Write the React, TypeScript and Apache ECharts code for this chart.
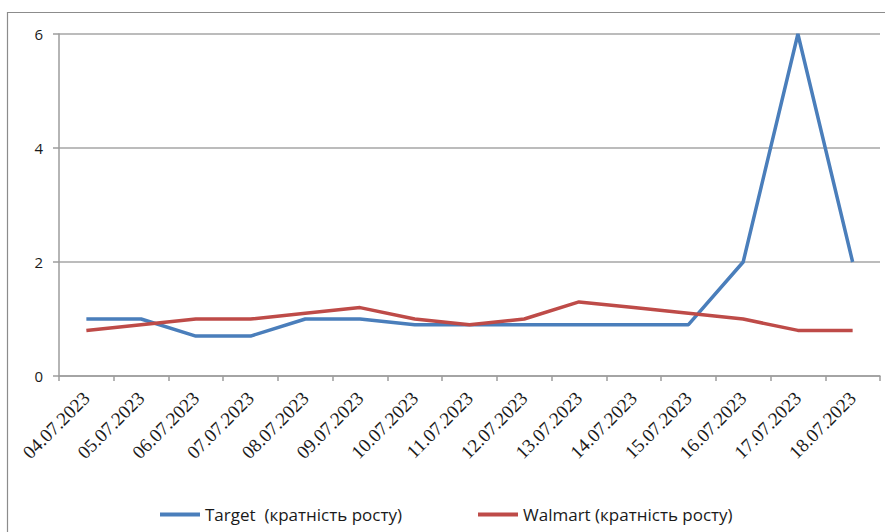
import React, { useEffect, useRef } from "react";
import * as echarts from "echarts";

const categories = [
  "04.07.2023", "05.07.2023", "06.07.2023", "07.07.2023", "08.07.2023",
  "09.07.2023", "10.07.2023", "11.07.2023", "12.07.2023", "13.07.2023",
  "14.07.2023", "15.07.2023", "16.07.2023", "17.07.2023", "18.07.2023",
];
const targetValues = [1, 1, 0.7, 0.7, 1, 1, 0.9, 0.9, 0.9, 0.9, 0.9, 0.9, 2, 6, 2];
const walmartValues = [0.8, 0.9, 1, 1, 1.1, 1.2, 1, 0.9, 1, 1.3, 1.2, 1.1, 1, 0.8, 0.8];
const targetName = "Target  (кратність росту)";
const walmartName = "Walmart (кратність росту)";

export default function App() {
  const ref = useRef<HTMLDivElement>(null);
  useEffect(() => {
    if (!ref.current) return;
    const chart = echarts.init(ref.current, undefined, { renderer: "svg" });
    chart.setOption({
      animation: false,
      backgroundColor: "#ffffff",
      graphic: [
        {
          type: "rect",
          z: -10,
          silent: true,
          shape: { x: 7.5, y: 12.5, width: 900, height: 600 },
          style: { fill: "none", stroke: "#8c8c8c", lineWidth: 1.2 },
        },
      ],
      grid: { left: 59, right: 5, top: 34, bottom: 156, containLabel: false },
      legend: {
        left: 155,
        top: 501,
        itemWidth: 40,
        itemHeight: 4,
        itemGap: 76,
        icon: "rect",
        textStyle: { fontFamily: "Open Sans", fontSize: 17, color: "#1a1a1a" },
        data: [targetName, walmartName],
      },
      xAxis: {
        type: "category",
        data: categories,
        boundaryGap: true,
        axisLine: { lineStyle: { color: "#9c9c9c", width: 1.5 } },
        axisTick: { show: true, length: 5, alignWithLabel: false, lineStyle: { color: "#9c9c9c", width: 1.5 } },
        axisLabel: {
          rotate: 45,
          interval: 0,
          margin: 19,
          fontFamily: "Liberation Serif",
          fontSize: 19,
          color: "#1a1a1a",
        },
        splitLine: { show: false },
      },
      yAxis: {
        type: "value",
        min: 0,
        max: 6,
        interval: 2,
        axisLine: { show: true, lineStyle: { color: "#9c9c9c", width: 1.5 } },
        axisTick: { show: true, length: 6, lineStyle: { color: "#9c9c9c", width: 1.5 } },
        axisLabel: {
          margin: 16,
          fontFamily: "Open Sans",
          fontSize: 15,
          color: "#1a1a1a",
        },
        splitLine: { show: true, lineStyle: { color: "#a6a6a6", width: 1.5 } },
      },
      series: [
        {
          name: targetName,
          type: "line",
          data: targetValues,
          symbol: "none",
          lineStyle: { color: "#4a7ebb", width: 3.5 },
          itemStyle: { color: "#4a7ebb" },
        },
        {
          name: walmartName,
          type: "line",
          data: walmartValues,
          symbol: "none",
          lineStyle: { color: "#be4b48", width: 3.5 },
          itemStyle: { color: "#be4b48" },
        },
      ],
    });
    return () => chart.dispose();
  }, []);
  return (
    <div
      ref={ref}
      style={{ position: "fixed", left: 0, top: 0, width: 885, height: 532 }}
    />
  );
}
